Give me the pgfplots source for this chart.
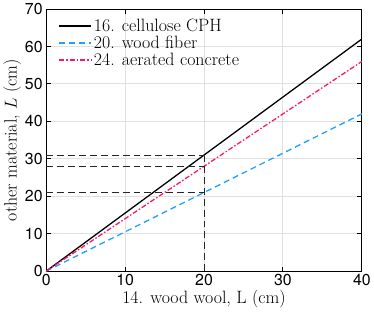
\documentclass[border=0pt]{standalone}
\usepackage{fontspec}
\usepackage{pgfplots}
\pgfplotsset{compat=1.18}
\newfontfamily\heros{TeX Gyre Heros}
\definecolor{mblue}{RGB}{30,160,255}
\definecolor{mmag}{RGB}{255,20,110}
\begin{document}
\begin{tikzpicture}
\begin{axis}[
  scale only axis,
  width=318pt, height=264pt,
  xmin=0, xmax=40, ymin=0, ymax=70,
  xtick={0,10,20,30,40}, ytick={0,10,...,70},
  tick align=inside,
  major tick length=4.5pt,
  axis line style={line width=1.1pt},
  tick style={line width=0.9pt, black},
  grid=major,
  grid style={black!12, line width=0.9pt},
  /pgf/number format/assume math mode=true,
  ticklabel style={font=\heros\fontsize{16}{18}\selectfont},
  xlabel={14. wood wool, L (cm)},
  ylabel={other material, $L$ (cm)},
  label style={font=\fontsize{18}{20}\selectfont},
  xlabel style={yshift=3pt},
  ylabel style={yshift=-3pt},
  legend style={draw=none, fill=none, at={(rel axis cs:0.03,0.978)}, anchor=north west,
    font=\fontsize{18}{20}\selectfont, row sep=-1pt},
  legend cell align=left,
  legend image code/.code={\draw[#1] (0pt,0pt) -- (32pt,0pt);},
]
\addplot[black, line width=1.3pt] coordinates {(0,0) (40,62)};
\addlegendentry{16. cellulose CPH}
\addplot[mblue, line width=1.3pt, dash pattern=on 6pt off 4pt] coordinates {(0,0) (40,42)};
\addlegendentry{20. wood fiber}
\addplot[mmag, line width=1.3pt, dash pattern=on 5pt off 2pt on 1.5pt off 2pt] coordinates {(0,0) (40,56)};
\addlegendentry{24. aerated concrete}
\addplot[black!85, line width=1pt, dash pattern=on 7pt off 4pt, forget plot] coordinates {(0,31) (20,31)};
\addplot[black!85, line width=1pt, dash pattern=on 7pt off 4pt, forget plot] coordinates {(0,28) (20,28)};
\addplot[black!85, line width=1pt, dash pattern=on 7pt off 4pt, forget plot] coordinates {(0,21) (20,21)};
\addplot[black!85, line width=1pt, dash pattern=on 7pt off 4pt, forget plot] coordinates {(20,0) (20,31)};
\end{axis}
\end{tikzpicture}
\end{document}
